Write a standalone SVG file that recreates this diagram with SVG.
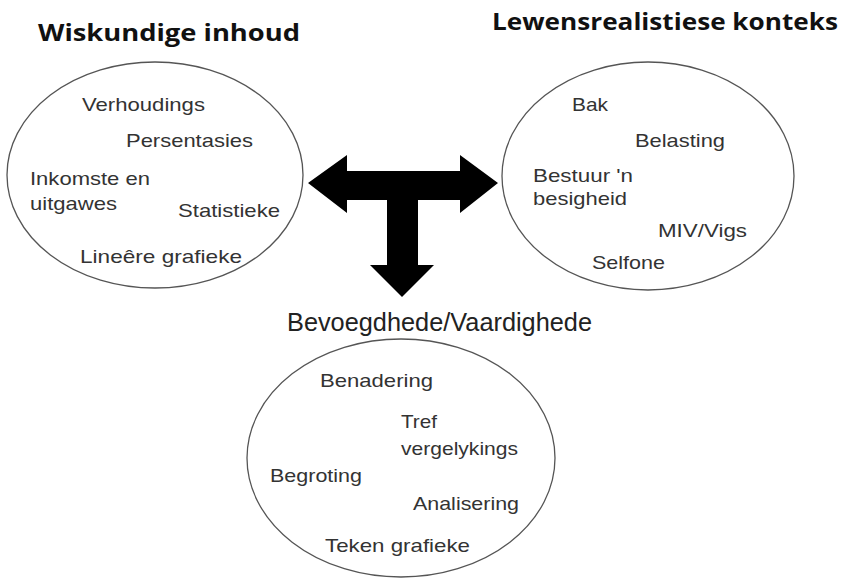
<svg xmlns="http://www.w3.org/2000/svg" width="845" height="583" viewBox="0 0 845 583">
<style>
.title{font-family:"Open Sans","Liberation Sans",sans-serif;font-weight:bold;font-size:23px;fill:#111}
.big{font-family:"Liberation Sans",Arial,sans-serif;font-size:25px;fill:#222}
.t{font-family:"Liberation Sans",Arial,sans-serif;font-size:19px;fill:#333}
.ell{fill:none;stroke:#555;stroke-width:1.3}
</style>
<rect width="845" height="583" fill="#fff"/>
<g id="connectors">
<path d="M308,183 L347,155 L347,171 L460,171 L460,155 L498,183 L460,213 L460,200 L418,200 L418,265 L434,265 L402,297 L370,265 L387,265 L387,200 L347,200 L347,213 Z" fill="#000"/>
</g>
<g id="wiskundige">
<text class="title" x="38" y="41" textLength="262" lengthAdjust="spacingAndGlyphs">Wiskundige inhoud</text>
<ellipse class="ell" cx="155" cy="175" rx="148" ry="113"/>
<text class="t" x="82" y="111" textLength="123" lengthAdjust="spacingAndGlyphs">Verhoudings</text>
<text class="t" x="126" y="147" textLength="127" lengthAdjust="spacingAndGlyphs">Persentasies</text>
<text class="t" x="30" y="185" textLength="120" lengthAdjust="spacingAndGlyphs">Inkomste en</text>
<text class="t" x="30" y="210" textLength="87" lengthAdjust="spacingAndGlyphs">uitgawes</text>
<text class="t" x="178" y="217" textLength="102" lengthAdjust="spacingAndGlyphs">Statistieke</text>
<text class="t" x="80" y="263" textLength="162" lengthAdjust="spacingAndGlyphs">Lineêre grafieke</text>
</g>
<g id="lewens">
<text class="title" x="492" y="30" textLength="346" lengthAdjust="spacingAndGlyphs">Lewensrealistiese konteks</text>
<ellipse class="ell" cx="648" cy="176" rx="146" ry="114"/>
<text class="t" x="572" y="111" textLength="36" lengthAdjust="spacingAndGlyphs">Bak</text>
<text class="t" x="635" y="147" textLength="90" lengthAdjust="spacingAndGlyphs">Belasting</text>
<text class="t" x="533" y="182" textLength="100" lengthAdjust="spacingAndGlyphs">Bestuur 'n</text>
<text class="t" x="533" y="205" textLength="94" lengthAdjust="spacingAndGlyphs">besigheid</text>
<text class="t" x="658" y="237" textLength="89" lengthAdjust="spacingAndGlyphs">MIV/Vigs</text>
<text class="t" x="592" y="269" textLength="73" lengthAdjust="spacingAndGlyphs">Selfone</text>
</g>
<g id="bevoegdhede">
<text class="big" x="287" y="331" textLength="305" lengthAdjust="spacingAndGlyphs">Bevoegdhede/Vaardighede</text>
<ellipse class="ell" cx="401" cy="458" rx="154" ry="119"/>
<text class="t" x="320" y="387" textLength="113" lengthAdjust="spacingAndGlyphs">Benadering</text>
<text class="t" x="401" y="428" textLength="36" lengthAdjust="spacingAndGlyphs">Tref</text>
<text class="t" x="401" y="455" textLength="117" lengthAdjust="spacingAndGlyphs">vergelykings</text>
<text class="t" x="270" y="482" textLength="92" lengthAdjust="spacingAndGlyphs">Begroting</text>
<text class="t" x="413" y="510" textLength="106" lengthAdjust="spacingAndGlyphs">Analisering</text>
<text class="t" x="325" y="552" textLength="145" lengthAdjust="spacingAndGlyphs">Teken grafieke</text>
</g>
</svg>
